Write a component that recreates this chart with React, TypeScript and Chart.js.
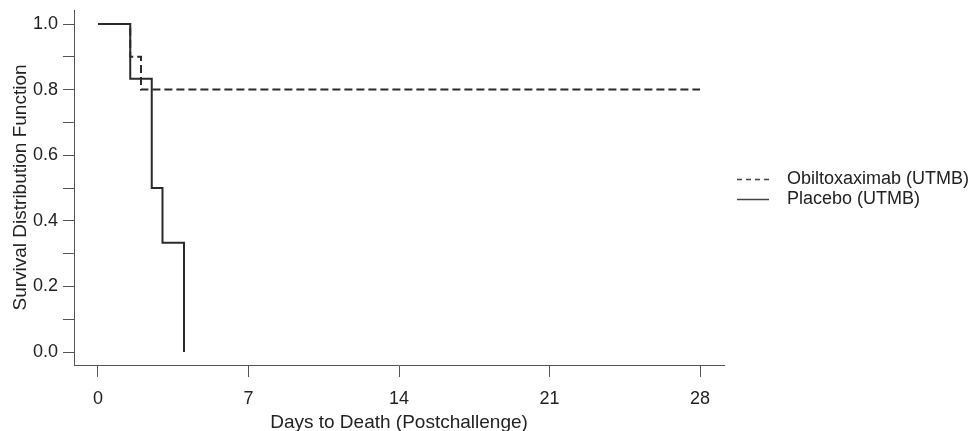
import React, { useEffect, useRef } from "react";
import { Chart, registerables } from "chart.js";

Chart.register(...registerables);

// ---- Data ----
const seriesLabels = ["Obiltoxaximab (UTMB)", "Placebo (UTMB)"];
const obiltoxaximabDays = [0, 1.5, 2, 28];
const obiltoxaximabSurvival = [1.0, 0.9, 0.8, 0.8];
const placeboDays = [0, 1.5, 2.5, 3, 4];
const placeboSurvival = [1.0, 0.8333, 0.5, 0.3333, 0.0];
const xTickValues = [0, 7, 14, 21, 28];
const yTickValues = [0, 0.1, 0.2, 0.3, 0.4, 0.5, 0.6, 0.7, 0.8, 0.9, 1.0];
const yLabelledTicks = [0, 0.2, 0.4, 0.6, 0.8, 1.0];
const xTitle = "Days to Death (Postchallenge)";
const yTitle = "Survival Distribution Function";

const FONT = "'Liberation Sans', Arial, Helvetica, sans-serif";
const TEXT = "#222222";
const AXIS = "#555555";
const LINE = "#2a2a2a";

const legendPlugin = {
  id: "kmLegend",
  afterDraw(chart: any) {
    const { ctx, chartArea } = chart;
    const x0 = chartArea.right + 13;
    const x1 = chartArea.right + 45;
    const tx = chartArea.right + 63;
    const mid = (chartArea.top + chartArea.bottom) / 2;
    const rows = [mid - 8, mid + 12];
    chart.data.datasets.forEach((ds: any, i: number) => {
      const y = rows[i];
      ctx.save();
      ctx.strokeStyle = "#444444";
      ctx.lineWidth = 1.5;
      ctx.setLineDash(ds.borderDash && ds.borderDash.length ? [5, 4] : []);
      ctx.beginPath();
      ctx.moveTo(x0, y);
      ctx.lineTo(x1, y);
      ctx.stroke();
      ctx.setLineDash([]);
      ctx.fillStyle = TEXT;
      ctx.font = `18px ${FONT}`;
      ctx.textBaseline = "middle";
      ctx.textAlign = "left";
      ctx.fillText(ds.label, tx, y);
      ctx.restore();
    });
  },
};

export default function App() {
  const ref = useRef<HTMLCanvasElement | null>(null);

  useEffect(() => {
    if (!ref.current) return;
    const chart = new Chart(ref.current, {
      type: "line",
      data: {
        datasets: [
          {
            label: seriesLabels[0],
            data: obiltoxaximabDays.map((x, i) => ({ x, y: obiltoxaximabSurvival[i] })),
            stepped: "before",
            borderColor: LINE,
            borderWidth: 2,
            borderDash: [8, 4],
            pointRadius: 0,
            fill: false,
          },
          {
            label: seriesLabels[1],
            data: placeboDays.map((x, i) => ({ x, y: placeboSurvival[i] })),
            stepped: "before",
            borderColor: LINE,
            borderWidth: 2,
            pointRadius: 0,
            fill: false,
          },
        ],
      },
      options: {
        animation: false,
        responsive: true,
        maintainAspectRatio: false,
        layout: { padding: { top: 10, right: 249, bottom: 0, left: 0 } },
        plugins: {
          legend: { display: false },
          tooltip: { enabled: false },
        },
        scales: {
          x: {
            type: "linear",
            min: -1.116,
            max: 29.116,
            afterBuildTicks: (s: any) => {
              s.ticks = xTickValues.map((v) => ({ value: v }));
            },
            afterFit: (s: any) => {
              s.height = 75;
              s.paddingLeft = 0;
              s.paddingRight = 0;
            },
            grid: { drawOnChartArea: false, drawTicks: true, tickLength: 12, color: AXIS, lineWidth: 1 },
            border: { display: true, color: AXIS, width: 1 },
            ticks: {
              font: { family: FONT, size: 18 },
              color: TEXT,
              padding: 11,
              maxRotation: 0,
              autoSkip: false,
              callback: (v: any) => String(v),
            },
            title: {
              display: true,
              text: xTitle,
              font: { family: FONT, size: 19 },
              color: TEXT,
              padding: { top: 0, bottom: 6 },
            },
          },
          y: {
            type: "linear",
            min: -0.0396,
            max: 1.0427,
            afterBuildTicks: (s: any) => {
              s.ticks = yTickValues.map((v) => ({ value: v }));
            },
            afterFit: (s: any) => {
              s.width = 74;
              s.paddingTop = 0;
              s.paddingBottom = 0;
            },
            grid: { drawOnChartArea: false, drawTicks: true, tickLength: 11, color: AXIS, lineWidth: 1 },
            border: { display: true, color: AXIS, width: 1 },
            ticks: {
              font: { family: FONT, size: 18 },
              color: TEXT,
              padding: 5,
              autoSkip: false,
              callback: (v: any) =>
                yLabelledTicks.some((t) => Math.abs(t - Number(v)) < 1e-9) ? Number(v).toFixed(1) : "",
            },
            title: {
              display: true,
              text: yTitle,
              font: { family: FONT, size: 19 },
              color: TEXT,
              padding: { top: 9, bottom: 0 },
            },
          },
        },
      },
      plugins: [legendPlugin],
    } as any);
    return () => chart.destroy();
  }, []);

  return (
    <div style={{ position: "fixed", left: 0, top: 0, width: 973, height: 440, background: "#ffffff" }}>
      <canvas ref={ref} />
    </div>
  );
}
